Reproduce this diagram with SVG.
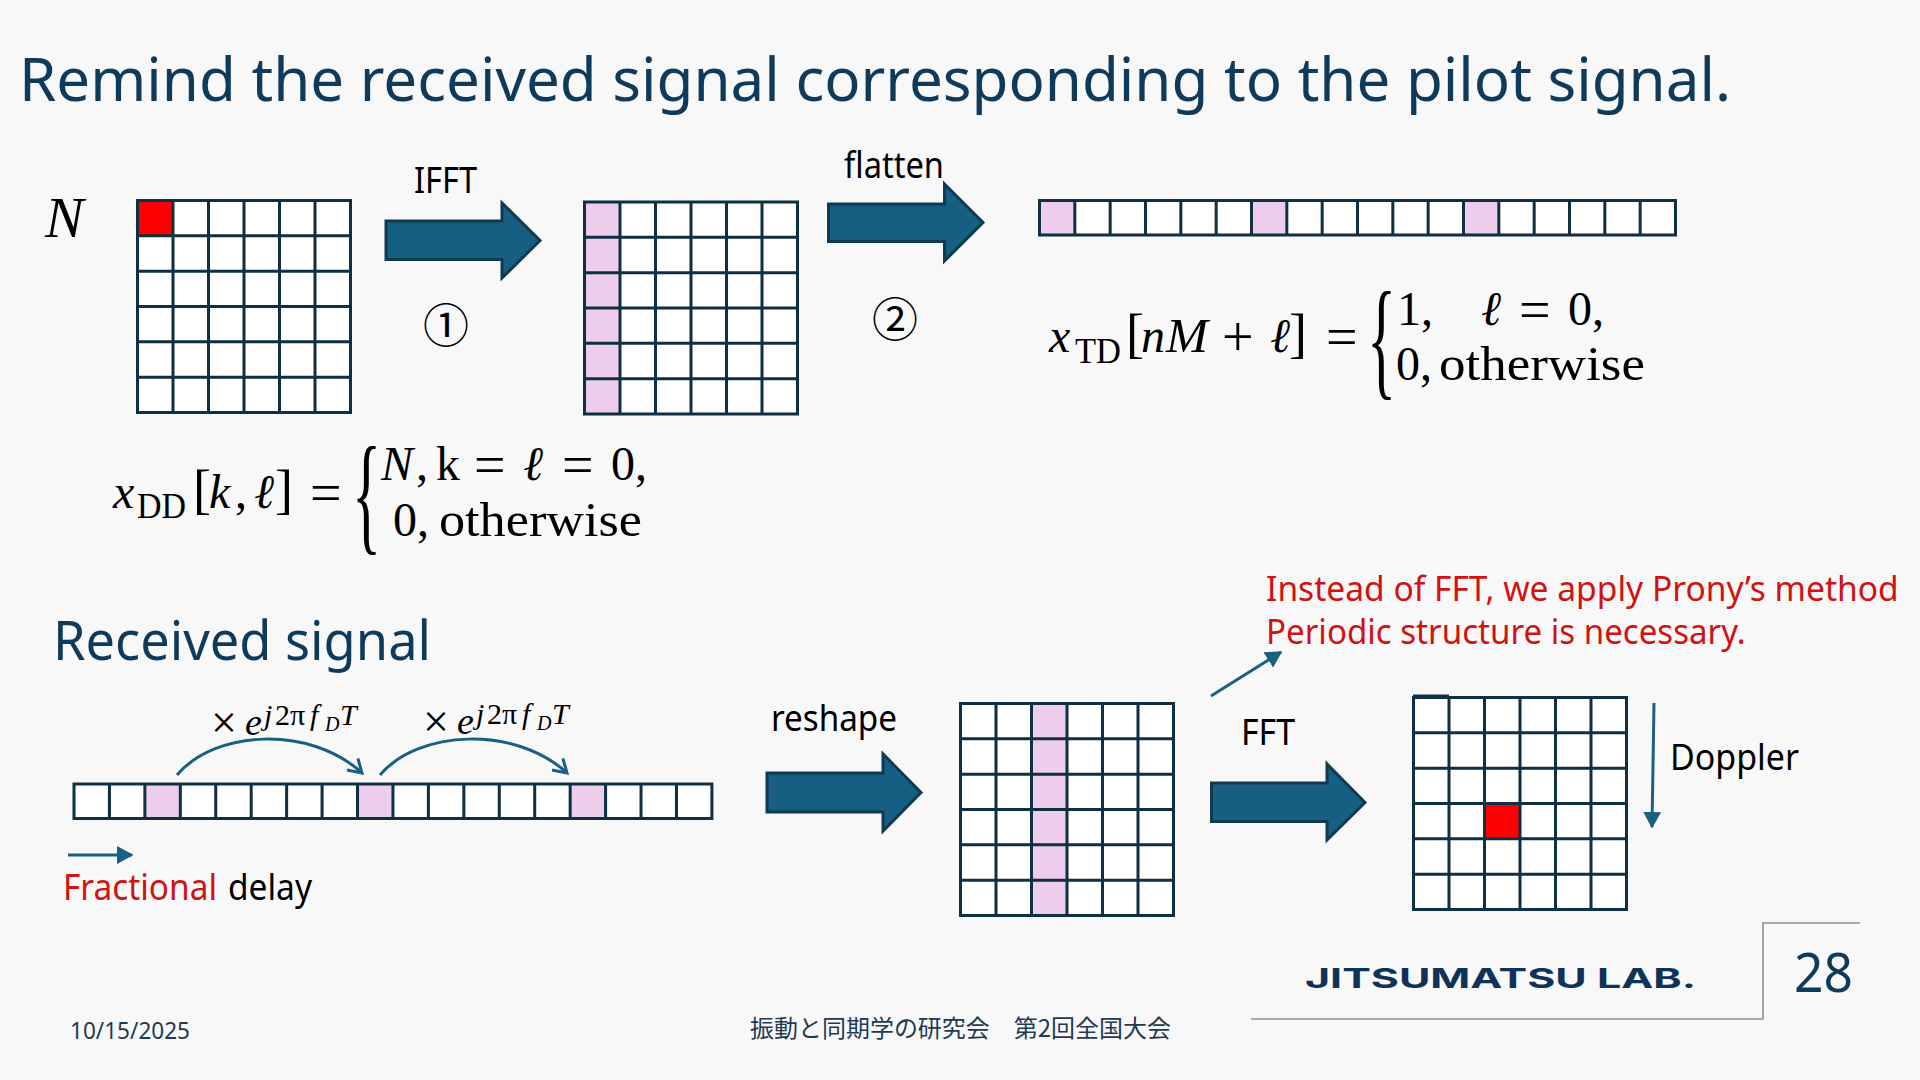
<svg xmlns="http://www.w3.org/2000/svg" width="1920" height="1080" viewBox="0 0 1920 1080">
<style>
.t{font-family:"Noto Sans","Open Sans","Noto Sans CJK JP",sans-serif;fill:#000}
.title{fill:#0e3a5c}
.red{fill:#d01212}
.m{font-family:"Liberation Serif","DejaVu Serif",serif;fill:#000;font-size:48px}
.i{font-style:italic}
.op{font-size:56px}
.sub{font-size:36px}
.sup{font-size:30px}
.ss{font-size:20px;font-style:italic}
.x{font-size:46px}
.e{font-size:38px;font-style:italic}
.br{font-size:132px}
.grid{fill:none;stroke:#0f2f42;stroke-width:3}
.bg{fill:#fff}
.pink{fill:#eecdec}
.redc{fill:#ff0000}
.block{fill:#175f82;stroke:#0f3a50;stroke-width:3}
.thin{fill:none;stroke:#1a6080;stroke-width:3}
.foot{fill:none;stroke:#8b9199;stroke-width:1.6}
</style>
<defs>
<path id="gridlines" class="grid" d="M0 0H213V212H0ZM35.5 0V212M71 0V212M106.5 0V212M142 0V212M177.5 0V212M0 35.3H213M0 70.7H213M0 106H213M0 141.3H213M0 176.7H213"/>
<path id="striplines" class="grid" d="M0 0H636V34.5H0ZM35.33 0V34.5M70.67 0V34.5M106 0V34.5M141.33 0V34.5M176.67 0V34.5M212 0V34.5M247.33 0V34.5M282.67 0V34.5M318 0V34.5M353.33 0V34.5M388.67 0V34.5M424 0V34.5M459.33 0V34.5M494.67 0V34.5M530 0V34.5M565.33 0V34.5M600.67 0V34.5"/>
<marker id="solid" markerWidth="6" markerHeight="6" refX="5" refY="3" orient="auto"><path d="M0 0L5.5 3L0 6Z" fill="#1a6080"/></marker>
<marker id="open" markerUnits="userSpaceOnUse" markerWidth="18" markerHeight="20" refX="15" refY="10" orient="auto"><path d="M2 2L15 10L2 18" fill="none" stroke="#1a6080" stroke-width="3"/></marker>
</defs>
<rect width="1920" height="1080" fill="#f8f8f8"/>

<text id="title" class="t title" x="19" y="101" font-size="60" textLength="1712" lengthAdjust="spacingAndGlyphs">Remind the received signal corresponding to the pilot signal.</text>

<g id="label-N"><text class="m i" x="45" y="237" style="font-size:58px">N</text></g>

<g id="grid-dd">
<rect class="bg" x="137.5" y="200.5" width="213" height="212"/>
<rect class="redc" x="137.5" y="200.5" width="35.5" height="35.3"/>
<use href="#gridlines" x="137.5" y="200.5"/>
</g>

<g id="grid-td">
<rect class="bg" x="584.5" y="202" width="213" height="212"/>
<rect class="pink" x="584.5" y="202" width="35.5" height="212"/>
<use href="#gridlines" x="584.5" y="202"/>
</g>

<g id="strip-td">
<rect class="bg" x="1039.5" y="200.5" width="636" height="34.5"/>
<rect class="pink" x="1039.5" y="200.5" width="35.33" height="34.5"/>
<rect class="pink" x="1251.5" y="200.5" width="35.33" height="34.5"/>
<rect class="pink" x="1463.5" y="200.5" width="35.33" height="34.5"/>
<use href="#striplines" x="1039.5" y="200.5"/>
</g>

<g id="strip-rx" transform="translate(74 0) scale(1.003 1)">
<rect class="bg" x="0" y="784" width="636" height="34.5"/>
<rect class="pink" x="70.67" y="784" width="35.33" height="34.5"/>
<rect class="pink" x="282.67" y="784" width="35.33" height="34.5"/>
<rect class="pink" x="494.67" y="784" width="35.33" height="34.5"/>
<use href="#striplines" x="0" y="784"/>
</g>

<g id="grid-reshape">
<rect class="bg" x="960.5" y="703.5" width="213" height="212"/>
<rect class="pink" x="1031.5" y="703.5" width="35.5" height="212"/>
<use href="#gridlines" x="960.5" y="703.5"/>
</g>

<g id="grid-fft">
<rect class="bg" x="1413.5" y="697.5" width="213" height="212"/>
<rect class="redc" x="1484.5" y="803.5" width="35.5" height="35.3"/>
<use href="#gridlines" x="1413.5" y="697.5"/>
<path class="grid" d="M1413 696H1449"/>
</g>

<g id="connectors">
<path id="arrow-ifft" class="block" d="M386 221H502V203L540 240.5L502 278V259.5H386Z"/>
<path id="arrow-flatten" class="block" d="M828.5 204H944.5V184L983 222.5L944.5 261V241.5H828.5Z"/>
<path id="arrow-reshape" class="block" d="M767 773H883V754L921 792.5L883 831V812H767Z"/>
<path id="arrow-fft" class="block" d="M1211.5 783H1327V764L1365 802.5L1327 840V821.5H1211.5Z"/>
<path id="curve-1" class="thin" marker-end="url(#open)" d="M177 775C215 730 310 725 362 773"/>
<path id="curve-2" class="thin" marker-end="url(#open)" d="M380 775C418 730 515 725 567 773"/>
<path id="arrow-delay" class="thin" marker-end="url(#solid)" d="M68 855H132"/>
<path id="arrow-prony" class="thin" marker-end="url(#solid)" d="M1211 696L1281 652"/>
<path id="arrow-doppler" class="thin" marker-end="url(#solid)" d="M1654 703L1652 827"/>
</g>

<g id="labels">
<text class="t" x="414" y="193" font-size="36" textLength="63" lengthAdjust="spacingAndGlyphs">IFFT</text>
<text class="t" x="844" y="178" font-size="36" textLength="100" lengthAdjust="spacingAndGlyphs">flatten</text>
<text class="t" x="423" y="342" font-size="46" style="font-family:'Noto Sans CJK JP',sans-serif">①</text>
<text class="t" x="872" y="336" font-size="46" style="font-family:'Noto Sans CJK JP',sans-serif">②</text>
<text class="t title" x="53" y="660" font-size="54" textLength="378" lengthAdjust="spacingAndGlyphs">Received signal</text>
<text class="t" x="771" y="731" font-size="36" textLength="126" lengthAdjust="spacingAndGlyphs">reshape</text>
<text class="t" x="1241" y="745" font-size="36" textLength="54" lengthAdjust="spacingAndGlyphs">FFT</text>
<text class="t" x="1670" y="770" font-size="36" textLength="129" lengthAdjust="spacingAndGlyphs">Doppler</text>
<text class="t red" transform="translate(1266 601) scale(0.9 1)" font-size="35" textLength="703" lengthAdjust="spacingAndGlyphs">Instead of FFT, we apply Prony’s method</text>
<text class="t red" transform="translate(1266 644) scale(0.9 1)" font-size="35" textLength="533" lengthAdjust="spacingAndGlyphs">Periodic structure is necessary.</text>
<text class="t red" x="63" y="900" font-size="36" textLength="154" lengthAdjust="spacingAndGlyphs">Fractional</text>
<text class="t" x="228" y="900" font-size="36" textLength="84" lengthAdjust="spacingAndGlyphs">delay</text>
</g>

<g id="eq-dd">
<text class="m i" x="113" y="508">x</text>
<text class="m sub" x="137" y="518" textLength="49" lengthAdjust="spacingAndGlyphs">DD</text>
<text class="m" x="193" y="508" style="font-size:54px">[</text>
<text class="m i" x="209" y="508">k</text>
<text class="m" x="235" y="508">,</text>
<text class="m i" x="254" y="508">ℓ</text>
<text class="m" x="275" y="508" style="font-size:54px">]</text>
<text class="m op" x="310" y="512">=</text>
<text class="m br" transform="translate(352 537) scale(0.46 1)">{</text>
<text class="m i" x="381" y="480">N</text>
<text class="m" x="416" y="480">,</text>
<text class="m" x="436" y="480">k</text>
<text class="m op" x="474" y="484">=</text>
<text class="m i" x="523" y="480">ℓ</text>
<text class="m op" x="562" y="484">=</text>
<text class="m" x="611" y="480">0</text>
<text class="m" x="635" y="480">,</text>
<text class="m" x="393" y="536">0</text>
<text class="m" x="417" y="536">,</text>
<text class="m" x="439" y="536" textLength="203" lengthAdjust="spacingAndGlyphs">otherwise</text>
</g>

<g id="eq-td">
<text class="m i" x="1049" y="352">x</text>
<text class="m sub" x="1075" y="363" textLength="46" lengthAdjust="spacingAndGlyphs">TD</text>
<text class="m" x="1126" y="352" style="font-size:54px">[</text>
<text class="m i" x="1141" y="352">n</text>
<text class="m i" x="1166" y="352" textLength="42" lengthAdjust="spacingAndGlyphs">M</text>
<text class="m op" x="1222" y="356">+</text>
<text class="m i" x="1270" y="352">ℓ</text>
<text class="m" x="1289" y="352" style="font-size:54px">]</text>
<text class="m op" x="1326" y="356">=</text>
<text class="m br" transform="translate(1367 382) scale(0.46 1)">{</text>
<text class="m" x="1397" y="325">1</text>
<text class="m" x="1421" y="325">,</text>
<text class="m i" x="1481" y="325">ℓ</text>
<text class="m op" x="1519" y="329">=</text>
<text class="m" x="1568" y="325">0</text>
<text class="m" x="1592" y="325">,</text>
<text class="m" x="1396" y="380">0</text>
<text class="m" x="1420" y="380">,</text>
<text class="m" x="1439" y="380" textLength="206" lengthAdjust="spacingAndGlyphs">otherwise</text>
</g>

<g id="eq-phase">
<text class="m x" x="211" y="738">×</text>
<text class="m e" x="245" y="735">e</text>
<text class="m sup i" x="264" y="725">j</text>
<text class="m sup" x="275" y="725">2π</text>
<text class="m sup i" x="310" y="725">f</text>
<text class="m ss" x="325" y="731">D</text>
<text class="m sup i" x="340" y="725">T</text>
<text class="m x" x="423" y="737">×</text>
<text class="m e" x="457" y="734">e</text>
<text class="m sup i" x="476" y="724">j</text>
<text class="m sup" x="487" y="724">2π</text>
<text class="m sup i" x="522" y="724">f</text>
<text class="m ss" x="537" y="730">D</text>
<text class="m sup i" x="552" y="724">T</text>
</g>

<g id="footer">
<path class="foot" d="M1251 1019H1763V923H1860"/>
<text x="1305" y="988" font-family="Inter,'DejaVu Sans',sans-serif" font-weight="700" font-size="27" fill="#0f3358" textLength="391" lengthAdjust="spacingAndGlyphs">JITSUMATSU LAB.</text>
<text class="t title" x="1794" y="992" font-size="55" textLength="59" lengthAdjust="spacingAndGlyphs">28</text>
<text class="t" x="70" y="1039" font-size="23" style="fill:#1f3a52" textLength="120" lengthAdjust="spacingAndGlyphs">10/15/2025</text>
<text x="750" y="1037" font-family="'Noto Sans CJK JP',sans-serif" font-size="24" fill="#1f3a52" textLength="421" lengthAdjust="spacingAndGlyphs">振動と同期学の研究会　第2回全国大会</text>
</g>
</svg>
